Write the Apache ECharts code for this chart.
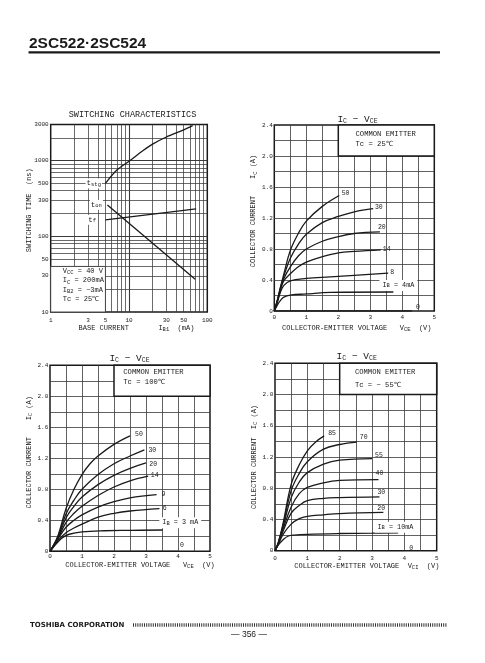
<!DOCTYPE html>
<html>
<head>
<meta charset="utf-8">
<script src="https://cdn.jsdelivr.net/npm/echarts@6.0.0/dist/echarts.min.js"></script>
<style>
html,body{margin:0;padding:0;background:#fff;}
#chart{width:485px;height:663px;}
</style>
</head>
<body>
<div id="chart"></div>
<script>
// ---------------- data ----------------
// Switching characteristics (log-log), IB1 in mA, time in ns
const swIb1Stg = [5, 7, 10, 15, 20, 30, 50, 65];
const swTstg   = [500, 750, 980, 1350, 1650, 2050, 2550, 2900];
const swIb1On  = [5.3, 70];
const swTon    = [260, 27];
const swIb1F   = [5, 72];
const swTf     = [165, 230];
const swXGrid  = [2,3,4,5,6,7,8,9,10,20,30,40,50,60,70,80,90];
const swYGrid  = [20,30,40,50,60,70,80,90,100,200,300,400,500,600,700,800,900,1000,2000];
const swXTickLabels = [1,3,5,10,30,50,100];
const swYTickLabels = [10,30,50,100,300,500,1000,3000];

// IC - VCE, Tc = 25 C   ([VCE (V), IC (A)])
const ib25 = ['50','30','20','14','8','4','0'];
const ic25_50 = [[0,0],[0.1,0.15],[0.2,0.32],[0.3,0.48],[0.5,0.78],[0.75,1.0],[1,1.16],[1.5,1.35],[2.03,1.49]];
const ic25_30 = [[0,0],[0.1,0.14],[0.2,0.31],[0.3,0.45],[0.5,0.68],[0.75,0.86],[1,0.99],[1.5,1.14],[2,1.22],[2.5,1.28],[3.09,1.32]];
const ic25_20 = [[0,0],[0.1,0.14],[0.2,0.3],[0.3,0.42],[0.5,0.57],[0.75,0.71],[1,0.8],[1.5,0.9],[2,0.96],[2.5,1.0],[3.3,1.02]];
const ic25_14 = [[0,0],[0.1,0.13],[0.2,0.28],[0.3,0.39],[0.5,0.48],[0.75,0.57],[1,0.63],[1.5,0.7],[2,0.75],[2.5,0.77],[3.33,0.79]];
const ic25_8  = [[0,0],[0.1,0.12],[0.2,0.25],[0.3,0.33],[0.5,0.39],[1,0.42],[1.75,0.44],[2.5,0.46],[3.56,0.49]];
const ic25_4  = [[0,0],[0.1,0.08],[0.2,0.14],[0.3,0.18],[0.5,0.205],[1,0.22],[1.75,0.24],[3.72,0.245]];
const ic25_0  = [[0,0],[4.3,0]];

// IC - VCE, Tc = 100 C
const ib100 = ['50','30','20','14','9','6','3','0'];
const ic100_50 = [[0,0],[0.1,0.07],[0.25,0.2],[0.5,0.55],[0.75,0.8],[1,0.99],[1.25,1.13],[1.5,1.23],[2,1.38],[2.5,1.49]];
const ic100_30 = [[0,0],[0.1,0.07],[0.25,0.19],[0.5,0.48],[0.75,0.66],[1,0.8],[1.5,0.99],[2,1.13],[2.5,1.23],[2.95,1.31]];
const ic100_20 = [[0,0],[0.1,0.065],[0.25,0.18],[0.5,0.43],[0.75,0.58],[1,0.7],[1.5,0.86],[2,0.98],[2.5,1.07],[3.0,1.14]];
const ic100_14 = [[0,0],[0.1,0.06],[0.25,0.17],[0.5,0.37],[0.75,0.49],[1,0.58],[1.5,0.72],[2,0.83],[2.5,0.91],[3.07,0.97]];
const ic100_9  = [[0,0],[0.1,0.06],[0.25,0.16],[0.5,0.31],[0.75,0.4],[1,0.47],[1.5,0.57],[2,0.64],[2.5,0.69],[3.33,0.73]];
const ic100_6  = [[0,0],[0.1,0.055],[0.25,0.14],[0.5,0.24],[0.75,0.3],[1,0.35],[1.5,0.44],[2,0.49],[2.5,0.52],[3.42,0.55]];
const ic100_3  = [[0,0],[0.1,0.05],[0.25,0.12],[0.4,0.18],[0.6,0.22],[1,0.25],[1.7,0.265],[2.5,0.27],[3.52,0.275]];
const ic100_0  = [[0,0],[4.0,0]];

// IC - VCE, Tc = -55 C
const ibm55 = ['85','70','55','40','30','20','10','0'];
const icm55_85 = [[0,0],[0.1,0.1],[0.25,0.35],[0.5,0.85],[0.75,1.1],[1,1.28],[1.25,1.39],[1.52,1.47]];
const icm55_70 = [[0,0],[0.1,0.1],[0.25,0.33],[0.5,0.77],[0.75,0.99],[1,1.14],[1.5,1.3],[2,1.36],[2.53,1.39]];
const icm55_55 = [[0,0],[0.1,0.1],[0.25,0.31],[0.5,0.68],[0.75,0.88],[1,1.0],[1.5,1.11],[2,1.16],[3,1.18]];
const icm55_40 = [[0,0],[0.1,0.09],[0.25,0.28],[0.5,0.56],[0.75,0.73],[1,0.81],[1.5,0.87],[2,0.9],[3.2,0.91]];
const icm55_30 = [[0,0],[0.1,0.09],[0.25,0.25],[0.5,0.48],[0.75,0.58],[1,0.64],[1.5,0.67],[2,0.68],[3.23,0.69]];
const icm55_20 = [[0,0],[0.1,0.08],[0.25,0.21],[0.5,0.34],[0.75,0.41],[1,0.44],[1.5,0.46],[2,0.475],[3.35,0.49]];
const icm55_10 = [[0,0],[0.1,0.07],[0.25,0.14],[0.4,0.185],[0.6,0.2],[1,0.21],[2,0.22],[3,0.225],[3.81,0.23]];
const icm55_0  = [[0,0],[4.0,0]];

// ---------------- styling ----------------
const MONO = '"Liberation Mono","DejaVu Sans Mono",monospace';
const INK = '#1a1a1a';
const GRIDC = '#3a3a3a';
const SUB = {fontSize:5.5, fontFamily:MONO, color:INK, verticalAlign:'bottom', lineHeight:6};

// end-label tweaks per curve: [distance, dx, dy] (null = no end label)
const lab25  = [[2.4,0,-2],[1.7,0,-1],[0,-2,-5],[2,0,0],[2,0,-1],null,[4,0,-4]];
const lab100 = [[5,0,-2],[4,0,1],[3.3,0,1],[2.5,0,-1],[5,0,0],[3.3,0,0],null,[2,0,-6]];
const labm55 = [[4,0,-2.5],[3,0,-5],[3,0,-3],[0,-3,-6],[0,-2,-5],[0,-6,-4],null,[4.8,0,-2.5]];

const grids = [
  {left:50.7, top:124.5, width:156.6, height:187.5},
  {left:274.3, top:125, width:160, height:186},
  {left:50, top:365.3, width:160, height:186},
  {left:275, top:363.3, width:161.7, height:187.4}
].map(g => Object.assign({show:true, borderColor:INK, borderWidth:1.5, backgroundColor:'transparent'}, g));

function nameStyle(pad){
  return {fontFamily:MONO, fontSize:7, color:INK, lineHeight:9, padding:pad, rich:{s:SUB}};
}
function valX(gi, margin, gap, pad, name){
  return {type:'value', gridIndex:gi, min:0, max:5, interval:0.5,
    axisLine:{show:false}, axisTick:{show:false},
    axisLabel:{margin:margin, fontSize:6, fontFamily:MONO, color:INK,
      formatter:v => Math.abs(v-Math.round(v))<1e-6 ? String(Math.round(v)) : ''},
    splitLine:{show:true, showMinLine:false, showMaxLine:false, lineStyle:{color:GRIDC, width:0.8}},
    name:name, nameLocation:'middle', nameGap:gap, nameTextStyle:nameStyle(pad)};
}
function valY(gi, margin, gap, pad, name){
  return {type:'value', gridIndex:gi, min:0, max:2.4, interval:0.2,
    axisLine:{show:false}, axisTick:{show:false},
    axisLabel:{margin:margin, fontSize:6, fontFamily:MONO, color:INK,
      formatter:v => { const k=v/0.4; return Math.abs(k-Math.round(k))<1e-6 ? (v===0?'0':v.toFixed(1)) : ''; }},
    splitLine:{show:true, showMinLine:false, showMaxLine:false, lineStyle:{color:GRIDC, width:0.8}},
    name:name, nameLocation:'middle', nameRotate:90, nameGap:gap, nameTextStyle:nameStyle(pad)};
}

function curve(gi, data, name, lab){
  return {type:'line', xAxisIndex:gi, yAxisIndex:gi, data:data, name:name,
    smooth:0.4, showSymbol:false, symbol:'none', z:3, silent:true,
    lineStyle:{color:INK, width:1.3},
    endLabel: lab ? {show:true, formatter:() => name, fontFamily:MONO, fontSize:6.5, color:INK,
      distance:lab[0], offset:[lab[1], lab[2]]} : {show:false}};
}

function box(text, padTop, padLeft, lh){
  return {silent:true, z:1, itemStyle:{color:'#fff', borderColor:INK, borderWidth:1.5},
    label:{show:true, position:'insideTopLeft', distance:0, padding:[padTop,0,0,padLeft],
      formatter:text, fontFamily:MONO, fontSize:7.2, lineHeight:lh, color:INK},
    data:[[{xAxis:2, yAxis:2.0},{xAxis:5, yAxis:2.4}]]};
}
function ibNote(text, coord){
  return {symbol:'circle', symbolSize:1, itemStyle:{color:'rgba(0,0,0,0)'}, z:5, silent:true,
    label:{show:true, position:'right', distance:0, formatter:text, fontFamily:MONO, fontSize:6.8,
      color:INK, backgroundColor:'#fff', padding:[2,3], rich:{s:SUB}},
    data:[{coord:coord}]};
}

function icSeries(gi, curves, names, labs, boxSpec, note){
  const out = curves.map((d,i) => curve(gi, d, names[i], labs[i]));
  const last = out[out.length-1];
  last.markArea = boxSpec;
  last.markPoint = note;
  return out;
}

// ---------------- switching chart series ----------------
const zip = (a,b) => a.map((v,i) => [v, b[i]]);
const swLines = swXGrid.map(v => ({xAxis:v, lineStyle:{width: v===10?1.1:0.75}}))
  .concat(swYGrid.map(v => ({yAxis:v, lineStyle:{width:(v===100||v===1000)?1.1:0.75}})));
const tRich = {s:{fontSize:5.5, fontFamily:MONO, color:INK, verticalAlign:'bottom', lineHeight:7}};
const swLabelItems = swXTickLabels.map(v => ({coord:[v,10], label:{position:'bottom', distance:4.5, formatter:String(v)}}))
  .concat(swYTickLabels.map(v => ({coord:[1,v], label:{position:'left', distance:1.5, formatter:String(v)}})))
  .concat([{coord:[swIb1Stg[0], swTstg[0]], label:{position:'left', distance:3, formatter:'t{s|stg}', fontSize:7.5, backgroundColor:'#fff', padding:[1,1], rich:tRich}}]);

const swSeries = [
  {type:'line', xAxisIndex:0, yAxisIndex:0, data:zip(swIb1Stg, swTstg), smooth:0.3, showSymbol:false, symbol:'none', z:3, silent:true,
    lineStyle:{color:INK, width:1.3},
    markLine:{silent:true, z:1, symbol:['none','none'], label:{show:false}, emphasis:{disabled:true},
      lineStyle:{color:GRIDC, type:'solid', width:0.75}, data:swLines},
    markArea:{silent:true, z:2, itemStyle:{color:'#fff', borderColor:GRIDC, borderWidth:0.9},
      label:{show:true, position:'insideTopLeft', distance:0, padding:[0.5,0,0,12.5],
        formatter:'{a|V}{s|CC}{a| = 40 V}\n{a|I}{s|C}{a| = 200mA}\n{a|I}{s|B2}{a| = \u22123mA}\n{a|Tc = 25\u2103}',
        rich:{a:{fontFamily:MONO, fontSize:7, color:INK, lineHeight:9.3}, s:SUB}},
      data:[[{xAxis:1, yAxis:10},{xAxis:5, yAxis:40}]]},
    markPoint:{symbol:'circle', symbolSize:1, itemStyle:{color:'rgba(0,0,0,0)'}, z:5, silent:true,
      label:{show:true, fontFamily:MONO, fontSize:6, color:INK}, data:swLabelItems}
  },
  {type:'line', xAxisIndex:0, yAxisIndex:0, data:zip(swIb1On, swTon), showSymbol:false, symbol:'none', z:3, silent:true,
    lineStyle:{color:INK, width:1.3},
    markPoint:{symbol:'circle', symbolSize:1, itemStyle:{color:'rgba(0,0,0,0)'}, z:5, silent:true,
      label:{show:true, position:'left', distance:4, formatter:'t{s|on}', fontFamily:MONO, fontSize:7.5, color:INK, backgroundColor:'#fff', padding:[1,1], rich:tRich},
      data:[{coord:[swIb1On[0], swTon[0]]}]}
  },
  {type:'line', xAxisIndex:0, yAxisIndex:0, data:zip(swIb1F, swTf), showSymbol:false, symbol:'none', z:3, silent:true,
    lineStyle:{color:INK, width:1.3},
    markPoint:{symbol:'circle', symbolSize:1, itemStyle:{color:'rgba(0,0,0,0)'}, z:5, silent:true,
      label:{show:true, position:'left', distance:8, formatter:'t{s|f}', fontFamily:MONO, fontSize:7.5, color:INK, backgroundColor:'#fff', padding:[1,1], rich:tRich},
      data:[{coord:[swIb1F[0], swTf[0]]}]}
  }
];

const logAxisCommon = {axisLine:{show:false}, axisTick:{show:false}, axisLabel:{show:false}, splitLine:{show:false}, logBase:10};

const option = {
  animation:false,
  textStyle:{fontFamily:MONO},
  grid:grids,
  xAxis:[
    Object.assign({type:'log', gridIndex:0, min:1, max:100, name:'BASE CURRENT       I{s|B1}  (mA)',
      nameLocation:'middle', nameGap:12, nameTextStyle:nameStyle([0,0,0,15])}, logAxisCommon),
    valX(1, 3.3, 13, [0,0,0,5], 'COLLECTOR-EMITTER VOLTAGE   V{s|CE}  (V)'),
    valX(2, 2.4, 8.5, [0,0,0,20], 'COLLECTOR-EMITTER VOLTAGE   V{s|CE}  (V)'),
    valX(3, 4.3, 10, [0,0,0,22], 'COLLECTOR-EMITTER VOLTAGE  V{s|CI}  (V)')
  ],
  yAxis:[
    Object.assign({type:'log', gridIndex:0, min:10, max:3000, name:'SWITCHING TIME  (ns)',
      nameLocation:'middle', nameRotate:90, nameGap:17, nameTextStyle:nameStyle([0,0,0,16])}, logAxisCommon),
    valY(1, 1.5, 10.8, [0,0,0,14], 'COLLECTOR CURRENT    I{s|C} (A)'),
    valY(2, 1.7, 16.5, [0,0,0,12], 'COLLECTOR CURRENT    I{s|C} (A)'),
    valY(3, 1.7, 11.5, [0,0,0,0], 'COLLECTOR CURRENT  I{s|C} (A)')
  ],
  series:[].concat(
    swSeries,
    icSeries(1, [ic25_50, ic25_30, ic25_20, ic25_14, ic25_8, ic25_4, ic25_0], ib25, lab25,
      box('COMMON EMITTER\nTc = 25\u2103', 4.8, 18, 10.3), ibNote('I{s|B} = 4mA', [3.27, 0.33])),
    icSeries(2, [ic100_50, ic100_30, ic100_20, ic100_14, ic100_9, ic100_6, ic100_3, ic100_0], ib100, lab100,
      box('COMMON EMITTER\nTc = 100\u2103', 3.3, 10, 9.4), ibNote('I{s|B} = 3 mA', [3.40, 0.37])),
    icSeries(3, [icm55_85, icm55_70, icm55_55, icm55_40, icm55_30, icm55_20, icm55_10, icm55_0], ibm55, labm55,
      box('COMMON EMITTER\nTc = \u2212 55\u2103', 3.8, 16, 12.4), ibNote('I{s|B} = 10mA', [3.06, 0.30]))
  ),
  graphic:[
    {type:'text', x:29, y:44, style:{text:'2SC522\u00b72SC524', font:'bold 15.5px "Liberation Sans", Arial, sans-serif', fill:INK, align:'left', verticalAlign:'middle'}},
    {type:'line', shape:{x1:28.5, y1:52.3, x2:440, y2:52.3}, style:{stroke:INK, lineWidth:2.2}},
    {type:'text', x:132.5, y:115, style:{text:'SWITCHING CHARACTERISTICS', font:'8.5px '+MONO, fill:INK, align:'center', verticalAlign:'middle'}},
    {type:'text', x:357.5, y:119, style:{text:'{a|I}{s|C}{a| \u2212 V}{s|CE}', align:'center', verticalAlign:'middle',
      rich:{a:{fontSize:9.5, fontFamily:MONO, fill:INK, lineHeight:11}, s:{fontSize:6.5, fontFamily:MONO, fill:INK, verticalAlign:'bottom', lineHeight:7}}}},
    {type:'text', x:129.5, y:358.3, style:{text:'{a|I}{s|C}{a| \u2212 V}{s|CE}', align:'center', verticalAlign:'middle',
      rich:{a:{fontSize:9.5, fontFamily:MONO, fill:INK, lineHeight:11}, s:{fontSize:6.5, fontFamily:MONO, fill:INK, verticalAlign:'bottom', lineHeight:7}}}},
    {type:'text', x:356.7, y:356, style:{text:'{a|I}{s|C}{a| \u2212 V}{s|CE}', align:'center', verticalAlign:'middle',
      rich:{a:{fontSize:9.5, fontFamily:MONO, fill:INK, lineHeight:11}, s:{fontSize:6.5, fontFamily:MONO, fill:INK, verticalAlign:'bottom', lineHeight:7}}}},
    {type:'text', x:30, y:625, style:{text:'TOSHIBA CORPORATION', font:'bold 7px "DejaVu Sans", sans-serif', fill:INK, align:'left', verticalAlign:'middle'}},
    {type:'line', shape:{x1:133, y1:625, x2:447, y2:625}, style:{stroke:'#333', lineWidth:3.5, lineDash:[1,1.2]}},
    {type:'text', x:249, y:635, style:{text:'\u2014 356 \u2014', font:'8.5px "Liberation Sans", sans-serif', fill:INK, align:'center', verticalAlign:'middle'}}
  ]
};

const chart = echarts.init(document.getElementById('chart'));
chart.setOption(option);
</script>
</body>
</html>
